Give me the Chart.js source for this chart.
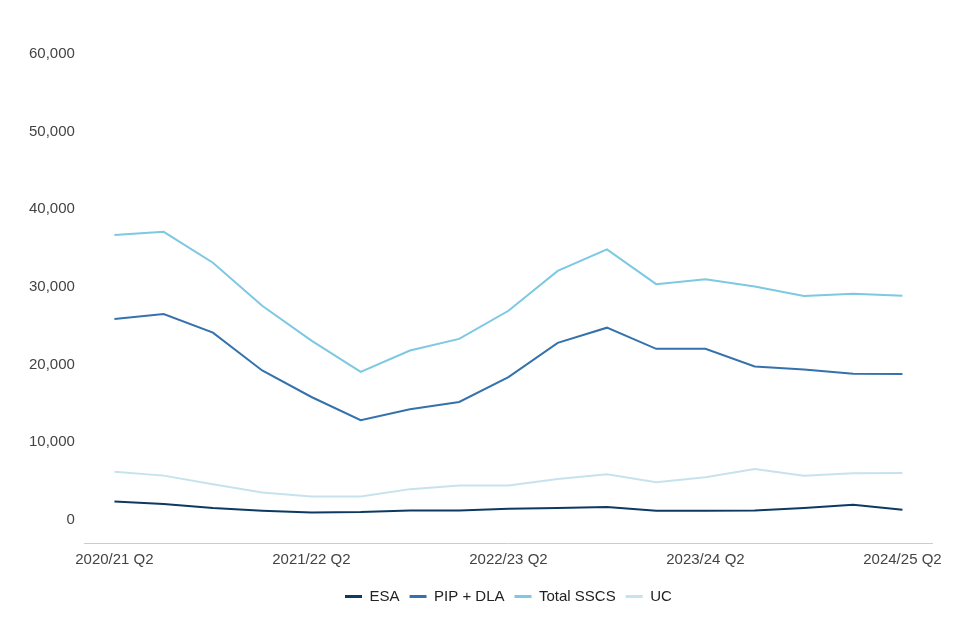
<!DOCTYPE html>
<html>
<head>
<meta charset="utf-8">
<script src="https://cdn.jsdelivr.net/npm/chart.js@4.4.1/dist/chart.umd.min.js"></script>
<style>
  html, body { margin: 0; padding: 0; background: #fff; }
  #wrap { width: 960px; height: 640px; }
</style>
</head>
<body>
<div id="wrap"><canvas id="chart"></canvas></div>
<script>
// quarters, 2020/21 Q2 .. 2024/25 Q2
const quarters = [
  "2020/21 Q2", "2020/21 Q3", "2020/21 Q4", "2021/22 Q1",
  "2021/22 Q2", "2021/22 Q3", "2021/22 Q4", "2022/23 Q1",
  "2022/23 Q2", "2022/23 Q3", "2022/23 Q4", "2023/24 Q1",
  "2023/24 Q2", "2023/24 Q3", "2023/24 Q4", "2024/25 Q1",
  "2024/25 Q2"
];

const esa = [2350, 2010, 1500, 1150, 940, 990, 1190, 1190, 1410, 1500, 1630, 1150, 1150, 1190, 1500, 1920, 1280];
const pipDla = [25860, 26500, 24100, 19230, 15810, 12820, 14230, 15170, 18370, 22780, 24740, 22010, 22010, 19740, 19360, 18810, 18780];
const totalSscs = [36670, 37090, 33110, 27560, 23080, 19040, 21800, 23300, 26920, 32050, 34830, 30350, 30990, 30040, 28810, 29100, 28850];
const uc = [6190, 5680, 4580, 3500, 2990, 2990, 3940, 4400, 4400, 5260, 5860, 4830, 5470, 6540, 5680, 5990, 6030];

const xTickIdx = [0, 4, 8, 12, 16];
const yTicks = [0, 10000, 20000, 30000, 40000, 50000, 60000];

function pts(arr) {
  return arr.map((v, i) => ({ x: i, y: v }));
}

function series(label, arr, colour) {
  return {
    label: label,
    data: pts(arr),
    borderColor: colour,
    backgroundColor: colour,
    borderWidth: 2,
    pointRadius: 0,
    tension: 0
  };
}

Chart.defaults.font.family = '"Liberation Sans", Arial, Helvetica, sans-serif';

new Chart(document.getElementById("chart"), {
  type: "line",
  data: {
    datasets: [
      series("ESA", esa, "#0c3a63"),
      series("PIP + DLA", pipDla, "#3572ac"),
      series("Total SSCS", totalSscs, "#7dc8e2"),
      series("UC", uc, "#c6e3ed")
    ]
  },
  options: {
    responsive: true,
    maintainAspectRatio: false,
    animation: false,
    layout: { padding: { left: 19, right: 28, top: 54, bottom: 26 } },
    plugins: {
      tooltip: { enabled: false },
      legend: {
        position: "bottom",
        fullSize: false,
        labels: {
          color: "#222",
          font: { size: 15 },
          boxWidth: 17,
          boxHeight: 3,
          padding: 10,
          generateLabels: chart => {
            const items = Chart.defaults.plugins.legend.labels.generateLabels(chart);
            items.forEach(it => { it.lineWidth = 0; });
            return items;
          }
        }
      }
    },
    scales: {
      x: {
        type: "linear",
        min: -0.6,
        max: 16.6,
        grid: { display: false, drawTicks: false },
        border: { display: true, color: "#cccccc", width: 1 },
        afterBuildTicks: axis => { axis.ticks = xTickIdx.map(v => ({ value: v })); },
        afterFit: axis => { axis.height += 2; },
        ticks: {
          color: "#444",
          font: { size: 15 },
          maxRotation: 0,
          autoSkip: false,
          padding: 8,
          callback: v => quarters[v]
        }
      },
      y: {
        min: -3000,
        max: 60000,
        grid: { display: false, drawTicks: false },
        border: { display: false },
        afterBuildTicks: axis => { axis.ticks = yTicks.map(v => ({ value: v })); },
        ticks: {
          color: "#444",
          font: { size: 15 },
          padding: 10,
          callback: v => v.toLocaleString("en-GB")
        }
      }
    }
  }
});
</script>
</body>
</html>
